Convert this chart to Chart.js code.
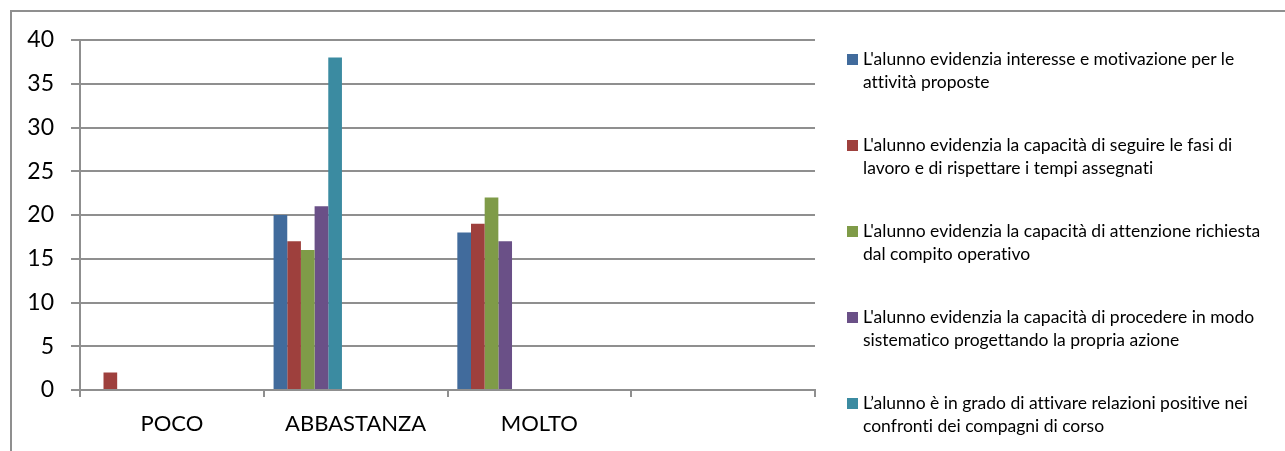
<!doctype html>
<html lang="it">

<head>
	<meta charset="utf-8">
	<title></title>
	<style>
		* {
			margin: 0;
			padding: 0;
		}

		body {
			width: 1285px;
			height: 451px;
			overflow: hidden;
			background: #fff;
			font-family: Lato, sans-serif;
			font-variant-ligatures: none;
		}

		.frame {
			position: absolute;
			left: 10px;
			top: 10px;
			width: 1300px;
			height: 500px;
			border-top: 2px solid #8f8f8f;
			border-left: 2px solid #8f8f8f;
		}

		.chartBox {
			position: absolute;
			left: 0;
			top: 0;
			width: 1285px;
			height: 451px;
		}

		.legend {
			position: absolute;
			left: 847px;
			top: 48px;
			font-size: 17.5px;
			line-height: 22.5px;
			color: #000;
		}

		.legend .item {
			position: relative;
			padding-left: 16px;
			height: 86px;
			white-space: nowrap;
		}

		.legend .box {
			position: absolute;
			left: 0;
			top: 6px;
			width: 11px;
			height: 11px;
		}
	</style>
</head>

<body>
	<div class="frame"></div>
	<div class="chartBox">
		<canvas id="surveyChart"></canvas>
	</div>
	<div class="legend" id="legend"></div>

	<script src="https://cdn.jsdelivr.net/npm/chart.js"></script>

	<script>
		const categories = ['POCO', 'ABBASTANZA', 'MOLTO', '']

		const interesse = [null, 20, 18, null]
		const fasi = [2, 17, 19, null]
		const attenzione = [null, 16, 22, null]
		const procedere = [null, 21, 17, null]
		const relazioni = [null, 38, null, null]

		const seriesNames = [
			["L'alunno evidenzia interesse e motivazione per le", "attività proposte"],
			["L'alunno evidenzia la capacità di seguire le fasi di", "lavoro e di rispettare i tempi assegnati"],
			["L'alunno evidenzia la capacità di attenzione richiesta", "dal compito operativo"],
			["L'alunno evidenzia la capacità di procedere in modo", "sistematico progettando la propria azione"],
			["L’alunno è in grado di attivare relazioni positive nei", "confronti dei compagni di corso"]
		]
		const seriesColors = ['#416b9c', '#9e403d', '#7f9b48', '#6a5087', '#3b8ba1']

		const yTicks = [0, 5, 10, 15, 20, 25, 30, 35, 40]

		// the original sheet has more series than the visible legend shows (cropped),
		// they are empty but still take their slot in each group
		const hiddenSeries = 7

		const gridColor = '#8f8f8f'
		const ctx = document.getElementById('surveyChart')

		const values = [interesse, fasi, attenzione, procedere, relazioni]
		const datasets = values.map((v, i) => ({
			label: seriesNames[i].join(' '),
			data: v,
			backgroundColor: seriesColors[i],
			borderWidth: 0,
			inLegend: true,
		}))
		for (let i = 0; i < hiddenSeries; i++) {
			datasets.push({
				label: '',
				data: categories.map(() => null),
				backgroundColor: 'transparent',
				inLegend: false,
			})
		}

		const config = {
			type: 'bar',
			data: {
				labels: categories,
				datasets: datasets
			},
			options: {
				responsive: true,
				maintainAspectRatio: false,
				animation: false,
				categoryPercentage: 0.893,
				barPercentage: 1,
				layout: {
					padding: {
						left: 10,
						top: 40,
						right: 470,
						bottom: 0
					}
				},
				scales: {
					x: {
						grid: {
							offset: true,
							drawOnChartArea: false,
							drawTicks: true,
							tickLength: 7,
							color: gridColor,
							lineWidth: 2
						},
						border: {
							display: true,
							color: gridColor,
							width: 2
						},
						ticks: {
							color: '#000',
							padding: 14,
							font: {
								family: 'Lato',
								size: 22
							}
						},
						afterFit: (scale) => {
							scale.height = 61
						}
					},
					y: {
						min: 0,
						max: 40,
						afterBuildTicks: (scale) => {
							scale.ticks = yTicks.map(v => ({ value: v }))
						},
						grid: {
							drawTicks: true,
							tickLength: 9,
							color: gridColor,
							lineWidth: 2
						},
						border: {
							display: true,
							color: gridColor,
							width: 2
						},
						ticks: {
							color: '#000',
							padding: 17,
							font: {
								family: 'Lato',
								size: 23
							}
						},
						afterFit: (scale) => {
							scale.width = 70
						}
					}
				},
				plugins: {
					legend: {
						display: false
					},
					tooltip: {
						enabled: false
					}
				}
			}
		};

		const surveyChart = new Chart(ctx, config);

		// html legend, built from the chart's own datasets
		const legendEl = document.getElementById('legend')
		surveyChart.data.datasets.forEach((ds, i) => {
			if (!ds.inLegend) return
			const item = document.createElement('div')
			item.className = 'item'
			const box = document.createElement('span')
			box.className = 'box'
			box.style.background = ds.backgroundColor
			item.appendChild(box)
			seriesNames[i].forEach(line => {
				const row = document.createElement('div')
				row.textContent = line
				item.appendChild(row)
			})
			legendEl.appendChild(item)
		})
	</script>

</body>

</html>
